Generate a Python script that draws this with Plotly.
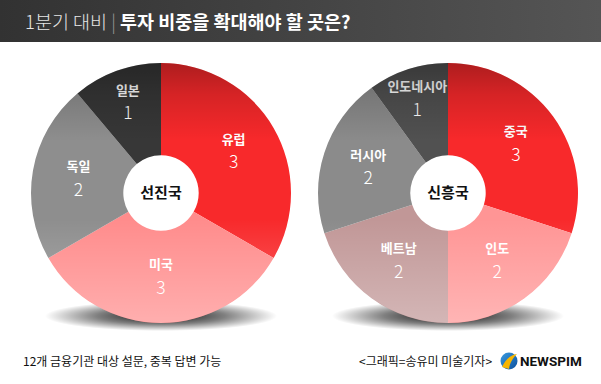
import base64
import plotly.graph_objects as go

# ---------------- data ----------------
title_light = "1분기 대비"
title_bold = "투자 비중을 확대해야 할 곳은?"

left_group = "선진국"
left_labels = ["유럽", "미국", "독일", "일본"]
left_values = [3, 3, 2, 1]
left_colors = ["#f8292b", "#ff8c8c", "#8e8e8e", "#373737"]

right_group = "신흥국"
right_labels = ["중국", "인도", "베트남", "러시아", "인도네시아"]
right_values = [3, 2, 2, 2, 1]
right_colors = ["#f8292b", "#ff9595", "#c19797", "#8b8b8b", "#515151"]

note_text = "12개 금융기관 대상 설문, 중복 답변 가능"
credit_text = "<그래픽=송유미 미술기자>"
brand_text = "NEWSPIM"

# ---------------- layout geometry (px) ----------------
W, H = 601, 384
R = 130
CY = 193
LCX, RCX = 161, 448
HOLE = 0.29
FONT = "Noto Sans CJK KR"


def dom(cx):
    return dict(x=[(cx - R) / W, (cx + R) / W],
                y=[1 - (CY + R) / H, 1 - (CY - R) / H])


def svg_uri(svg):
    return "data:image/svg+xml;base64," + base64.b64encode(svg.encode("utf-8")).decode("ascii")


# background decoration: header bar gradient, pie shadows, logo mark
bg_svg = f"""<svg xmlns="http://www.w3.org/2000/svg" width="{W}" height="{H}" viewBox="0 0 {W} {H}">
<defs>
<linearGradient id="hd" x1="0" y1="0" x2="1" y2="0">
<stop offset="0" stop-color="#323232"/><stop offset="1" stop-color="#555555"/></linearGradient>
<radialGradient id="sh" cx="0.5" cy="0.5" r="0.5">
<stop offset="0" stop-color="#000" stop-opacity="0.95"/>
<stop offset="0.55" stop-color="#000" stop-opacity="0.5"/>
<stop offset="1" stop-color="#000" stop-opacity="0"/></radialGradient>
<linearGradient id="lg" x1="0" y1="0" x2="1" y2="1">
<stop offset="0" stop-color="#3a9be0"/><stop offset="1" stop-color="#0b4f9c"/></linearGradient>
</defs>
<rect x="0" y="0" width="{W}" height="42" fill="url(#hd)"/>
<ellipse cx="{LCX}" cy="{CY + R - 7}" rx="{R - 14}" ry="15" fill="url(#sh)"/>
<ellipse cx="{RCX}" cy="{CY + R - 7}" rx="{R - 14}" ry="15" fill="url(#sh)"/>
<circle cx="509" cy="361" r="8.5" fill="url(#lg)"/>
<path d="M502,367 C505,360 510,355 517,354 C513,358 510,362 509,369 Z" fill="#f7b500"/>
</svg>"""

# top-to-bottom shading over the pies (dark top, light bottom)
ov_parts = []
for cx in (LCX, RCX):
    ov_parts.append(f'<circle cx="{cx}" cy="{CY}" r="{R}" fill="url(#pg)"/>')
ov_svg = f"""<svg xmlns="http://www.w3.org/2000/svg" width="{W}" height="{H}" viewBox="0 0 {W} {H}">
<defs>
<linearGradient id="pg" x1="0" y1="0" x2="0" y2="1">
<stop offset="0" stop-color="#000" stop-opacity="0.30"/>
<stop offset="0.12" stop-color="#000" stop-opacity="0.14"/>
<stop offset="0.30" stop-color="#000" stop-opacity="0"/>
<stop offset="0.60" stop-color="#fff" stop-opacity="0"/>
<stop offset="1" stop-color="#fff" stop-opacity="0.30"/></linearGradient>
</defs>
{''.join(ov_parts)}
</svg>"""

tmpl = ("<span style='font-size:13px'><b>%{label}</b></span><br>"
        "<span style='font-size:17.5px'>%{value}</span>")


def make_pie(labels, values, colors, cx, group):
    return go.Pie(
        labels=labels, values=values, sort=False, direction="clockwise", rotation=0,
        hole=HOLE, domain=dom(cx),
        marker=dict(colors=colors, line=dict(width=0)),
        texttemplate=tmpl, textposition="inside", insidetextorientation="horizontal",
        textfont=dict(family=FONT, size=19, color="white", weight=300),
        title=dict(text=f"<b>{group}</b>", position="middle center",
                   font=dict(family=FONT, size=15, color="#111111")),
        showlegend=False, hoverinfo="label+value",
    )


fig = go.Figure([
    make_pie(left_labels, left_values, left_colors, LCX, left_group),
    make_pie(right_labels, right_values, right_colors, RCX, right_group),
])

images = [
    dict(source=svg_uri(bg_svg), xref="paper", yref="paper", x=0, y=1, sizex=1, sizey=1,
         xanchor="left", yanchor="top", sizing="stretch", layer="below"),
    dict(source=svg_uri(ov_svg), xref="paper", yref="paper", x=0, y=1, sizex=1, sizey=1,
         xanchor="left", yanchor="top", sizing="stretch", layer="above"),
]

annotations = [
    dict(text=f"<span style='color:#e6e6e6'>{title_light}</span>"
              f"<span style='color:#9a9a9a'> | </span><b>{title_bold}</b>",
         x=23 / W, y=1 - 21 / H, xref="paper", yref="paper", xanchor="left", yanchor="middle",
         showarrow=False, font=dict(family=FONT, size=18.5, color="white", weight=300)),
    dict(text=note_text, x=21 / W, y=1 - 360 / H, xref="paper", yref="paper",
         xanchor="left", yanchor="middle", showarrow=False,
         font=dict(family=FONT, size=12, color="#111111")),
    dict(text=credit_text, x=494 / W, y=1 - 360 / H, xref="paper", yref="paper",
         xanchor="right", yanchor="middle", showarrow=False,
         font=dict(family=FONT, size=12, color="#111111")),
    dict(text=f"<b>{brand_text}</b>", x=518 / W, y=1 - 361 / H, xref="paper", yref="paper",
         xanchor="left", yanchor="middle", showarrow=False,
         font=dict(family="Roboto", size=13.5, color="#111111")),
]

fig.update_layout(
    width=W, height=H, margin=dict(l=0, r=0, t=0, b=0),
    paper_bgcolor="white", plot_bgcolor="white",
    images=images, annotations=annotations,
    uniformtext=dict(minsize=19, mode="show"),
    font=dict(family=FONT),
)

fig.write_html("out.html", config={"displayModeBar": False},
               post_script="document.body.style.margin='0';document.body.style.overflow='hidden';")
